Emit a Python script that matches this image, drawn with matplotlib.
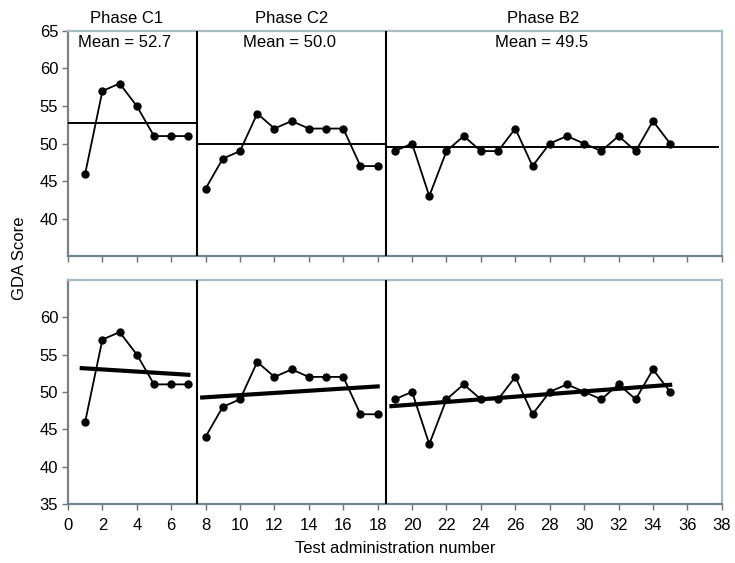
import numpy as np
import matplotlib
matplotlib.use("Agg")
import matplotlib.pyplot as plt

plt.rcParams['font.family'] = ['Liberation Sans', 'DejaVu Sans']

# GDA scores by phase
phase_names = ["Phase C1", "Phase C2", "Phase B2"]
x_c1 = list(range(1, 8))
y_c1 = [46, 57, 58, 55, 51, 51, 51]
x_c2 = list(range(8, 19))
y_c2 = [44, 48, 49, 54, 52, 53, 52, 52, 52, 47, 47]
x_b2 = list(range(19, 36))
y_b2 = [49, 50, 43, 49, 51, 49, 49, 52, 47, 50, 51, 50, 49, 51, 49, 53, 50]
phase_means = [52.7, 50.0, 49.5]

phases = [(x_c1, y_c1), (x_c2, y_c2), (x_b2, y_b2)]
bounds = [0, 7.5, 18.5, 37.8]
title_x = [3.4, 13.0, 27.6]
mean_x = [3.3, 12.85, 27.5]

dark_spine = '#6f8590'
light_spine = '#a8bcc4'

fig = plt.figure(figsize=(7.35, 5.63), dpi=100)
ax_top = fig.add_axes([0.0925, 0.545, 0.8895, 0.400])
ax_bot = fig.add_axes([0.0925, 0.105, 0.8895, 0.398])

for ax in (ax_top, ax_bot):
    ax.set_xlim(0, 38)
    ax.set_ylim(35, 65)
    ax.set_xticks(np.arange(0, 39, 2))
    ax.tick_params(direction='out', length=4, width=1, color='#707070',
                   labelsize=12)
    ax.tick_params(axis='x', pad=6)
    ax.tick_params(axis='y', pad=3)
    ax.spines['left'].set_color(dark_spine)
    ax.spines['bottom'].set_color(dark_spine)
    ax.spines['top'].set_color(light_spine)
    ax.spines['right'].set_color(light_spine)
    for s in ax.spines.values():
        s.set_linewidth(1.6)
    for b in bounds[1:-1]:
        ax.axvline(b, color='black', lw=1.5, zorder=3)
    for xs, ys in phases:
        ax.plot(xs, ys, color='black', lw=1.3, marker='o', ms=5, zorder=4)

# Top panel: phase means
ax_top.set_yticks([40, 45, 50, 55, 60, 65])
ax_top.set_xticklabels([])
for i, m in enumerate(phase_means):
    ax_top.plot([bounds[i], bounds[i + 1]], [m, m], color='black', lw=1.4, zorder=3)
    ax_top.text(mean_x[i], 64.4, f"Mean = {m:.1f}", ha='center', va='top', fontsize=12)
    ax_top.text(title_x[i], 66.0, phase_names[i], ha='center', va='baseline',
                fontsize=12, clip_on=False)

# Bottom panel: least-squares trend per phase
ax_bot.set_yticks([35, 40, 45, 50, 55, 60])
for xs, ys in phases:
    slope, icpt = np.polyfit(xs, ys, 1)
    xl = np.array([xs[0] - 0.2, xs[-1]])
    ax_bot.plot(xl, slope * xl + icpt, color='black', lw=3, zorder=3)

ax_bot.set_xlabel("Test administration number", fontsize=12, labelpad=6)
fig.text(0.026, 0.542, "GDA Score", rotation=90, ha='center', va='center', fontsize=12)

fig.savefig("out.png", dpi=100)
